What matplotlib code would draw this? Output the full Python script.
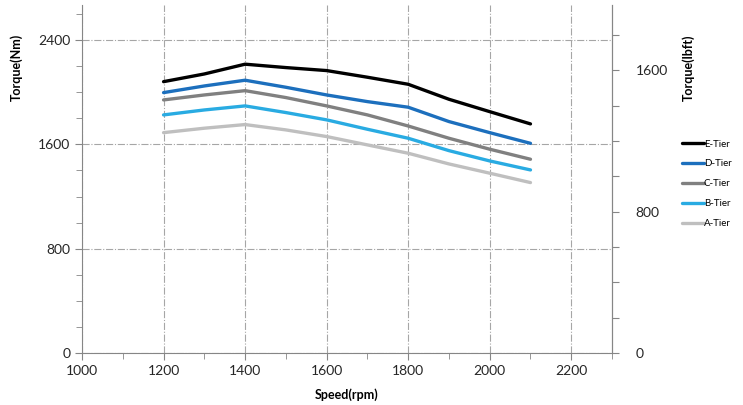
import matplotlib.pyplot as plt
from matplotlib.ticker import MultipleLocator, FuncFormatter

plt.rcParams['font.family'] = ['Lato', 'DejaVu Sans']

speed = [1200, 1300, 1400, 1500, 1600, 1700, 1800, 1900, 2000, 2100]

e_tier = [2081, 2140, 2215, 2189, 2166, 2115, 2061, 1946, 1851, 1757]
d_tier = [1997, 2048, 2092, 2038, 1979, 1928, 1885, 1775, 1690, 1608]
c_tier = [1941, 1979, 2012, 1959, 1895, 1826, 1741, 1647, 1563, 1486]
b_tier = [1826, 1864, 1895, 1844, 1788, 1716, 1647, 1552, 1473, 1404]
a_tier = [1690, 1724, 1752, 1711, 1660, 1596, 1532, 1450, 1379, 1307]

names = ['E-Tier', 'D-Tier', 'C-Tier', 'B-Tier', 'A-Tier']
series = [e_tier, d_tier, c_tier, b_tier, a_tier]
colors = ['#000000', '#1c6fbd', '#808080', '#29abe2', '#bfbfbf']

NM_PER_LBFT = 1.35582
axis_grey = '#868686'

fig = plt.figure(figsize=(7.43, 4.05), dpi=100)
ax = fig.add_axes([0.1104, 0.1284, 0.8237 - 0.1104, 0.988 - 0.1284])

for name, vals, c in zip(names, series, colors):
    ax.plot(speed, vals, color=c, lw=2.4, label=name, solid_capstyle='round')

ax.set_xlim(1000, 2300)
ax.set_ylim(0, 2670)
ax.xaxis.set_major_locator(MultipleLocator(200))
ax.xaxis.set_minor_locator(MultipleLocator(100))
ax.yaxis.set_major_locator(MultipleLocator(800))
ax.yaxis.set_minor_locator(MultipleLocator(200))

ax.grid(True, which='major', axis='both', color='#a6a6a6', lw=0.8, ls='-.')

ax.spines['top'].set_visible(False)
for s in ['left', 'bottom', 'right']:
    ax.spines[s].set_color(axis_grey)

ax.tick_params(which='both', direction='out', color=axis_grey, labelsize=10,
               labelcolor='#262626')
ax.tick_params(which='major', length=5)
ax.tick_params(which='minor', length=4)

ax.set_xlabel('Speed(rpm)', fontsize=9, fontweight='bold', labelpad=8)
ax.set_ylabel('Torque(Nm)', fontsize=9, fontweight='bold')
ax.yaxis.set_label_coords(-0.112, 0.82)

# right axis in lbft
ax2 = ax.twinx()
ax2.set_ylim(0, 2670 / NM_PER_LBFT)
ax2.yaxis.set_major_locator(MultipleLocator(200))
ax2.yaxis.set_major_formatter(FuncFormatter(lambda v, p: f'{v:.0f}' if v % 800 == 0 else ''))
for s in ['top', 'left', 'bottom']:
    ax2.spines[s].set_visible(False)
ax2.spines['right'].set_color(axis_grey)
ax2.tick_params(direction='out', length=5, color=axis_grey, labelsize=10,
                labelcolor='#262626', pad=12)
ax2.set_ylabel('Torque(lbft)', fontsize=9, fontweight='bold')
ax2.yaxis.set_label_coords(1.133, 0.82)

handles, labels = ax.get_legend_handles_labels()
fig.legend(handles, labels, loc='center left', bbox_to_anchor=(0.912, 0.546),
           frameon=False, fontsize=7, handlelength=2.2, handletextpad=0.0,
           labelspacing=1.12, borderpad=0)

fig.savefig('out.png', dpi=100)
